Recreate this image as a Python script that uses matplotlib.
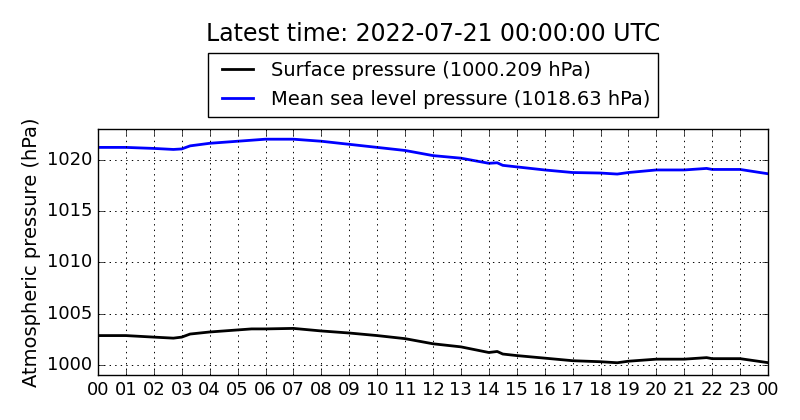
import matplotlib
matplotlib.use("Agg")
import matplotlib.pyplot as plt

plt.style.use("classic")

hours_msl = [0, 1, 2, 2.7, 3, 3.3, 4, 5, 5.5, 6, 7, 8, 9, 10, 11, 11.9, 12, 13, 14, 14.3, 14.5,
             15, 16, 17, 18, 18.6, 19, 20, 21, 21.8, 22, 23, 24]
msl = [1021.2, 1021.2, 1021.1, 1021.0, 1021.05, 1021.35, 1021.6, 1021.8, 1021.9, 1022.0, 1022.0,
       1021.8, 1021.5, 1021.2, 1020.9, 1020.45, 1020.4, 1020.15, 1019.65, 1019.7, 1019.45,
       1019.3, 1019.0, 1018.75, 1018.7, 1018.6, 1018.75, 1019.0, 1019.0, 1019.15, 1019.05,
       1019.05, 1018.63]

hours_sfc = hours_msl
sfc = [1002.85, 1002.85, 1002.7, 1002.6, 1002.7, 1003.0, 1003.2, 1003.4, 1003.5, 1003.5, 1003.55,
       1003.3, 1003.1, 1002.85, 1002.55, 1002.1, 1002.05, 1001.75, 1001.2, 1001.3, 1001.05,
       1000.9, 1000.65, 1000.4, 1000.3, 1000.2, 1000.35, 1000.55, 1000.55, 1000.7, 1000.6,
       1000.6, 1000.209]

tick_hours = list(range(25))
tick_labels = ["%02d" % (h % 24) for h in tick_hours]
y_ticks = [1000, 1005, 1010, 1015, 1020]
y_tick_labels = ["1000", "1005", "1010", "1015", "1020"]

title = "Latest time: 2022-07-21 00:00:00 UTC"
sfc_label = "Surface pressure (1000.209 hPa)"
msl_label = "Mean sea level pressure (1018.63 hPa)"

fig = plt.figure(figsize=(8, 4.2), dpi=100, facecolor="white")
ax = fig.add_axes([0.1225, 0.107, 0.8375, 0.586])
ax.set_facecolor("white")
ax.plot(hours_sfc, sfc, color="black", lw=2, label=sfc_label)
ax.plot(hours_msl, msl, color="blue", lw=2, label=msl_label)
ax.set_xlim(0, 24)
ax.set_ylim(999, 1023)
ax.set_xticks(tick_hours)
ax.set_xticklabels(tick_labels)
ax.set_yticks(y_ticks)
ax.set_yticklabels(y_tick_labels)
ax.tick_params(labelsize=13)
ax.grid(True, color="k", linestyle=":", linewidth=0.7)
ax.set_ylabel("Atmospheric pressure (hPa)", fontsize=14, labelpad=4)
leg = ax.legend(loc="lower center", bbox_to_anchor=(0.5, 1.05), fontsize=14,
                frameon=True, fancybox=False, handlelength=2.2, handletextpad=0.62,
                borderpad=0.4, labelspacing=0.5, borderaxespad=0)
leg.get_frame().set_edgecolor("black")
fig.text(0.541, 0.919, title, ha="center", va="center", fontsize=17)
fig.savefig("out.png", dpi=100, facecolor="white")
